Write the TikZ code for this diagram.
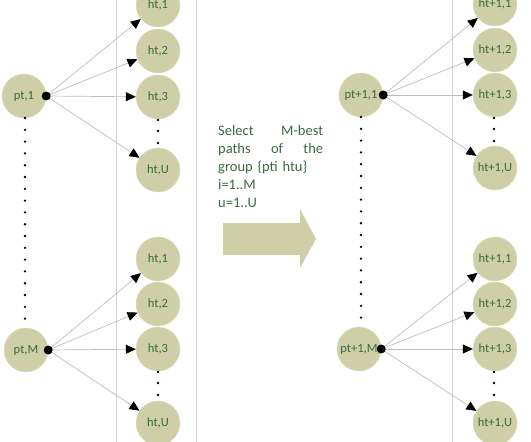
\documentclass[tikz,border=0pt]{standalone}
\usepackage{fontspec}
\setmainfont{Carlito}
\usetikzlibrary{arrows.meta}
\definecolor{khaki}{HTML}{CFCFA7}
\definecolor{txtgreen}{HTML}{3A6A40}
\definecolor{edgegray}{HTML}{BDBDBD}
\definecolor{vline}{HTML}{D2D2D2}
\tikzset{
  state/.style={circle, fill=khaki, draw=khaki!70!white, line width=0.4pt, minimum size=44pt, inner sep=0pt, text=txtgreen, font=\fontsize{12.5}{14}\selectfont},
  hub/.style={circle, fill=black, minimum size=9pt, inner sep=0pt},
  link/.style={draw=edgegray, line width=0.7pt, -{Triangle[length=10pt,width=9pt,color=black]}},
  vdot/.style={circle, fill=black, minimum size=2.6pt, inner sep=0pt},
  sep/.style={draw=vline, line width=0.8pt}
}
\begin{document}
\begin{tikzpicture}[x=1pt,y=-1pt]
\useasboundingbox (0,0) rectangle (531,442);
% vertical separators
\coordinate (s1t) at (116,0); \coordinate (s1b) at (116,442);
\coordinate (s2t) at (196,0); \coordinate (s2b) at (196,442);
\coordinate (s3t) at (452,0); \coordinate (s3b) at (452,442);
\draw[sep] (s1t) -- (s1b);
\draw[sep] (s2t) -- (s2b);
\draw[sep] (s3t) -- (s3b);
% left group
\node[state] (p1) at (24,96) {pt,1};
\node[state] (pM) at (26,350) {pt,M};
\coordinate (d1) at (p1.east);
\coordinate (dM) at (pM.east);
\node[state] (a1) at (158,5) {ht,1};
\node[state] (a2) at (158,51) {ht,2};
\node[state] (a3) at (158,97) {ht,3};
\node[state] (aU) at (158,170) {ht,U};
\node[state] (b1) at (158,259) {ht,1};
\node[state] (b2) at (158,304) {ht,2};
\node[state] (b3) at (158,349) {ht,3};
\node[state] (bU) at (158,423) {ht,U};
\foreach \t in {a1,a2,a3,aU} \draw[link] (d1) -- (\t);
\foreach \t in {b1,b2,b3,bU} \draw[link] (dM) -- (\t);
\node[hub] (h1) at (d1) {};
\node[hub] (hM) at (dM) {};
\foreach \k in {0,...,17} \node[vdot] at (25,118+11.8*\k) {};
\foreach \y in {120,131,143} \node[vdot] at (158,\y) {};
\foreach \y in {372,383,395} \node[vdot] at (158,\y) {};
% right group
\node[state] (q1) at (361,95) {pt+1,1};
\node[state] (qM) at (359,349) {pt+1,M};
\coordinate (e1) at (q1.east);
\coordinate (eM) at (qM.east);
\node[state] (c1) at (495,4) {ht+1,1};
\node[state] (c2) at (495,50) {ht+1,2};
\node[state] (c3) at (495,95) {ht+1,3};
\node[state] (cU) at (495,168) {ht+1,U};
\node[state] (f1) at (495,259) {ht+1,1};
\node[state] (f2) at (495,304) {ht+1,2};
\node[state] (f3) at (495,349) {ht+1,3};
\node[state] (fU) at (495,423) {ht+1,U};
\foreach \t in {c1,c2,c3,cU} \draw[link] (e1) -- (\t);
\foreach \t in {f1,f2,f3,fU} \draw[link] (eM) -- (\t);
\node[hub] (g1) at (e1) {};
\node[hub] (gM) at (eM) {};
\foreach \k in {0,...,17} \node[vdot] at (361,117+11.8*\k) {};
\foreach \y in {118,129,141} \node[vdot] at (494,\y) {};
\foreach \y in {372,383,395} \node[vdot] at (494,\y) {};
% middle text
\node[anchor=north west, inner sep=0pt, text width=105pt, text=txtgreen,
      font=\fontsize{14.5}{18}\selectfont] (txt) at (218,125)
  {\hbox to\linewidth{Select\hfill M-best}\par
   \hbox to\linewidth{paths\hfill of\hfill the}\par
   group \{pti htu\}\par
   i=1..M\par
   u=1..U};
% block arrow
\fill[khaki] (223,223) -- (300,223) -- (300,209) -- (316,239) -- (300,268) -- (300,255) -- (223,255) -- cycle;
\end{tikzpicture}
\end{document}
